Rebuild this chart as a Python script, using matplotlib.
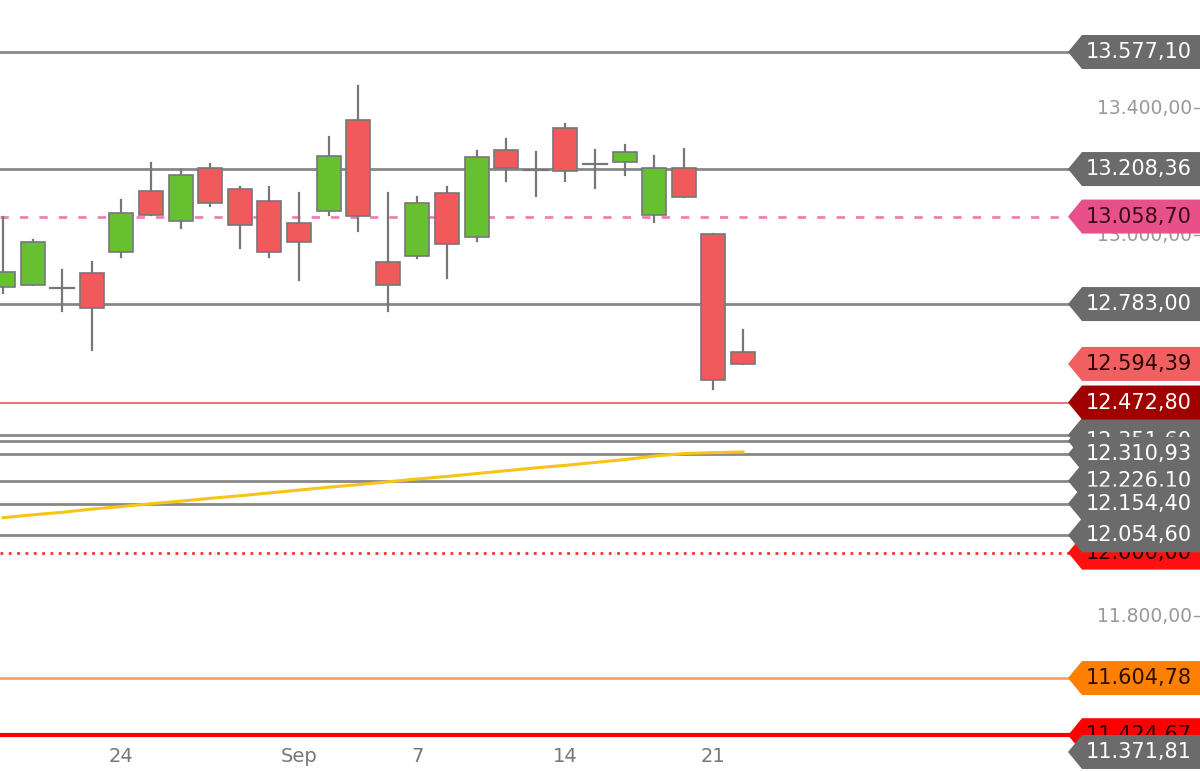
import matplotlib
matplotlib.use("Agg")
import matplotlib.pyplot as plt
from matplotlib.patches import Polygon, Rectangle

opens  = [12836.7,12843.0,12833.6,12880.8,12947.0,13139.2,13044.7,13211.7,13145.5,13107.7,13038.4,13076.2,13362.9,12915.5,12934.4,13132.9,12994.3,13268.4,13205.4,13337.7,13224.3,13230.6,13063.6,13211.7,13003.7,12632.0]
highs  = [13057.3,12984.8,12890.3,12915.5,13110.8,13227.4,13205.4,13224.3,13152.0,13152.0,13132.9,13309.3,13470.0,13132.9,13120.3,13152.0,13265.2,13303.0,13262.1,13350.3,13268.4,13284.1,13249.5,13271.5,13003.7,12701.3]
lows   = [12817.9,12843.0,12761.2,12638.3,12931.2,13063.6,13022.6,13092.0,12959.6,12931.2,12858.8,13063.6,13013.2,12761.2,12928.1,12865.1,12981.7,13170.7,13123.5,13170.7,13148.7,13189.6,13041.5,13120.3,12515.4,12594.2]
closes = [12884.0,12978.5,12836.0,12770.6,13069.9,13063.6,13189.6,13101.4,13032.1,12947.0,12978.5,13249.5,13060.4,12843.0,13101.4,12972.2,13246.3,13211.7,13207.0,13202.2,13226.0,13262.1,13211.7,13120.3,12543.8,12594.2]
ma     = [12110,12119,12127,12137,12145,12154,12162,12171,12179,12188,12197,12206,12214,12223,12232,12240,12249,12258,12267,12275,12284,12293,12304,12312,12315,12317]
date_labels = ["24","Sep","7","14","21"]
date_pos = [4,10,14,19,24]
yticks = [11400,11600,11800,12000,12200,12400,12600,12800,13000,13200,13400,13600]

# (value, line colour, line style, label bg, text colour, draw line)
levels = [
    (13577.10,"#888888","-","#6b6b6b","white",True),
    (13208.36,"#888888","-","#6b6b6b","white",True),
    (13058.70,"#f080b0",(0,(3,4)),"#e8508a","#3a0a1a",True),
    (12783.00,"#888888","-","#6b6b6b","white",True),
    (12594.39,None,"-","#f06060","#2a0000",False),
    (12472.80,"#e06060","-","#a00000","white",True),
    (12370.50,"#888888","-","#6b6b6b","white",True),
    (12351.60,"#888888","-","#6b6b6b","white",True),
    (12310.93,"#888888","-","#6b6b6b","white",True),
    (12226.10,"#888888","-","#6b6b6b","white",True),
    (12154.40,"#888888","-","#6b6b6b","white",True),
    (12054.60,"#888888","-","#6b6b6b","white",True),
    (12000.00,"#ff3030",(0,(1,2)),"#ff1010","#2a0000",True),
    (11604.78,"#ffa060","-","#ff7f00","#2a1000",True),
    (11424.67,"#ff0000","-","#ff0000","#2a0000",True),
    (11371.81,None,"-","#6b6b6b","white",False),
]
draw_order = [14,12,0,1,2,3,4,6,7,5,8,9,10,11,13,15]

fig = plt.figure(figsize=(12,7.71), dpi=100)
ax = fig.add_axes([0,0,1,1])
PX = 29.6
def xi(px): return (px-3)/PX
x0, x1 = xi(0), xi(1200)
ytop = 13577.1 + 52*3.1504
ybot = 13577.1 - (771-52)*3.1504
ax.set_xlim(x0, x1); ax.set_ylim(ybot, ytop)
ax.axis("off")

def fmt(v):
    return f"{v:,.2f}".replace(",", "X").replace(".", ",").replace("X", ".")

xlab = xi(1070)
for v,lc,ls,bg,tc,dl in levels:
    if dl:
        lw = 3 if v == 11424.67 else (1.2 if v == 12472.80 else 2)
        ax.plot([x0, xlab], [v, v], color=lc, ls=ls, lw=lw, zorder=1)

for t in yticks:
    ax.text(xi(1192), t, fmt(t), ha="right", va="center", color="#999999", fontsize=13.5, zorder=2)
    ax.plot([xi(1194), xi(1200)], [t, t], color="#999999", lw=1, zorder=2)

ax.plot(range(len(ma)), ma, color="#f5c518", lw=2.2, zorder=3)

w = 24/PX
for i,(o,h,l,c) in enumerate(zip(opens,highs,lows,closes)):
    ax.plot([i,i],[l,h], color="#777777", lw=1.6, zorder=4)
    if abs(c-o) < 5:
        ax.plot([i-w/2, i+w/2],[o,o], color="#777777", lw=1.6, zorder=5)
        continue
    col = "#66c030" if c > o else "#f05a5a"
    ax.add_patch(Rectangle((i-w/2, min(o,c)), w, abs(c-o), facecolor=col,
                           edgecolor="#777777", lw=1.2, zorder=5))

hh = 17*3.1504
for n,k in enumerate(draw_order):
    v,lc,ls,bg,tc,dl = levels[k]
    pts = [(xi(1068), v), (xi(1082), v+hh), (xi(1200), v+hh), (xi(1200), v-hh), (xi(1082), v-hh)]
    ax.add_patch(Polygon(pts, closed=True, facecolor=bg, edgecolor="none", zorder=6+n*0.01))
    ax.text(xi(1192), v, fmt(v), ha="right", va="center", color=tc, fontsize=15, zorder=6.005+n*0.01)

for p,lbl in zip(date_pos, date_labels):
    ax.text(p, 13577.1-(757-52)*3.1504, lbl, ha="center", va="center", color="#777777", fontsize=14)

fig.savefig("out.png", dpi=100)
